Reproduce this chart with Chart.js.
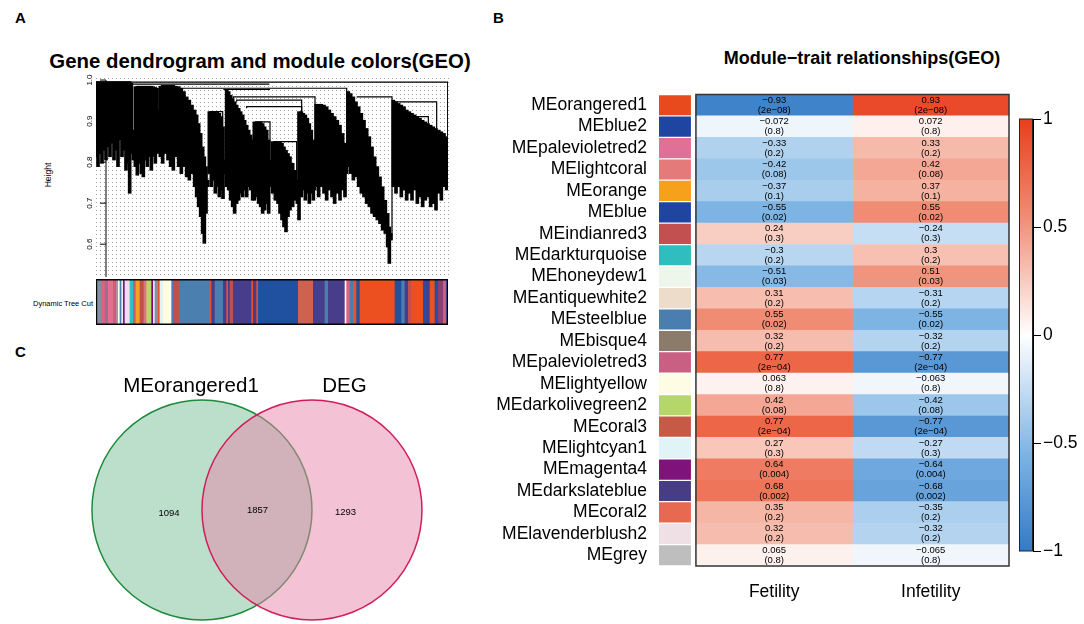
<!DOCTYPE html>
<html>
<head>
<meta charset="utf-8">
<script src="https://cdn.jsdelivr.net/npm/chart.js@4.4.1/dist/chart.umd.min.js"></script>
<style>
  body { margin: 0; width: 1084px; height: 624px; overflow: hidden; position: relative; background: #fff;
         font-family: "Liberation Sans", Arial, sans-serif; }
  canvas { position: absolute; }
  .lbl { position: absolute; white-space: nowrap; color: #000; }
</style>
</head>
<body>
<div class="lbl" style="left:15px;top:10px;font-size:15px;font-weight:bold;line-height:15px">A</div>
<div class="lbl" style="left:493px;top:10px;font-size:15px;font-weight:bold;line-height:15px">B</div>
<div class="lbl" style="left:15px;top:344px;font-size:15px;font-weight:bold;line-height:15px">C</div>
<div class="lbl" style="left:-40px;width:600px;text-align:center;top:51px;font-size:20.4px;font-weight:bold;line-height:20px">Gene dendrogram and module colors(GEO)</div>
<div class="lbl" style="left:562px;width:600px;text-align:center;top:49px;font-size:18px;font-weight:bold;line-height:18px">Module−trait relationships(GEO)</div>
<div class="lbl" style="left:18px;width:60px;top:170px;text-align:center;font-size:8.5px;line-height:10px;transform:rotate(-90deg)">Height</div>
<div class="lbl" style="left:0px;width:93px;top:299px;text-align:right;font-size:7.5px;line-height:9px">Dynamic Tree Cut</div>

<canvas id="dendro" width="460" height="210" style="left:0;top:70px"></canvas>
<canvas id="strip" width="352" height="46" style="left:96px;top:279px"></canvas>
<canvas id="venn" width="520" height="294" style="left:0;top:330px"></canvas>
<canvas id="heat" width="585" height="530" style="left:430px;top:80px"></canvas>
<canvas id="cbar" width="69" height="460" style="left:1015px;top:105px"></canvas>

<script>
// ---- panel A: dendrogram (leaf order index, height) ----
const dendroX = [0,6,12,18,24,30,36,42,48,54,60,66,72,78,84,90,96,101,106,112,118,124,130,136,142,148,154,160,166,172,178,183,188,
  193,200,208,216,224,232,240,248,256,264,272,280,288,296,302,308,314,320,325,330,335,340,346,352,358,364,370,376,381,386,
  392,398,404,410,416,422,428,434,440,446,452,458,464,470,475,482,488,494,500,506,512,518,524,530,538,546,552,558,564,570,
  576,582,590,598,604,609,616,622,628,634,640,646,652,656,660,668,676,684,692,700,708,716,724,732,740,747,752,757,764,772,
  780,788,796,804,812,820,828,836,844,852,860,868,875,880,885,892,900,908,916,924,932,940,948,956,964,972,980,988,996,1004,
  1012,1020,1028,1036,1044,1052];
const dendroTop = [.996,.996,.996,.996,.996,.996,.996,.996,.996,.996,.996,.996,.996,.996,.996,.996,.996,.996,.992,.878,.984,.985,.985,.985,.985,.985,.985,.985,.985,.984,.982,.980,.927,
  .985,.987,.987,.987,.987,.987,.985,.984,.980,.972,.959,.951,.939,.927,.915,.894,.870,.837,.813,.789,.756,.923,.923,.923,.923,.923,.919,.911,.886,.805,
  .977,.972,.963,.955,.947,.939,.931,.923,.915,.902,.890,.878,.866,.854,.898,.898,.898,.898,.894,.886,.878,.854,.805,.850,.850,.850,.850,.846,.837,.829,
  .821,.813,.797,.780,.756,.923,.923,.919,.915,.907,.894,.878,.854,.821,.941,.941,.941,.939,.935,.927,.919,.911,.902,.890,.870,.846,.813,.972,.967,.959,
  .947,.935,.919,.902,.882,.862,.837,.813,.789,.764,.740,.707,.675,.642,.626,.951,.947,.943,.939,.935,.927,.923,.919,.915,.911,.907,.902,.898,.894,.890,
  .886,.882,.878,.874,.870,.862];
const dendroBottom = [.813,.789,.821,.797,.829,.805,.837,.813,.846,.805,.829,.789,.854,.813,.829,.780,.797,.724,.821,.805,.789,.768,.797,.772,.764,.805,.789,.813,.780,.813,.797,.829,.821,
  .813,.797,.821,.805,.789,.780,.813,.789,.772,.789,.764,.756,.772,.740,.715,.691,.667,.626,.602,.675,.740,.772,.740,.756,.724,.740,.715,.732,.711,.772,
  .740,.732,.707,.691,.675,.699,.707,.724,.715,.732,.715,.740,.732,.707,.707,.715,.699,.691,.675,.683,.699,.675,.740,.724,.707,.699,.675,.659,.642,.630,
  .667,.683,.691,.707,.699,.659,.715,.732,.707,.724,.699,.724,.707,.732,.740,.715,.740,.724,.707,.732,.715,.699,.724,.707,.732,.715,.772,.789,.772,.756,
  .764,.740,.724,.715,.699,.691,.675,.667,.659,.650,.634,.626,.593,.553,.610,.740,.724,.740,.715,.732,.707,.724,.707,.732,.699,.715,.691,.707,.715,.691,
  .699,.683,.724,.707,.740,.732];
// merge brackets: left leaf, right leaf, join height, left/right leg ends
const mergeLeft  = [0, 102, 252, 382, 412, 422, 452, 477, 532, 340, 782, 892, 927, 957];
const mergeRight = [1055, 520, 752, 522, 657, 617, 617, 522, 602, 380, 888, 1022, 997, 997];
const mergeH     = [.995, .990, .980, .977, .959, .951, .935, .898, .850, .923, .959, .947, .911, .882];
const mergeLegL  = [.980, .990, .980, .977, .955, .947, .931, .898, .850, .923, .959, .947, .911, .882];
const mergeLegR  = [.862, .990, .813, .977, .941, .923, .923, .805, .756, .886, .626, .882, .894, .882];
const heightTicks = [0.6, 0.7, 0.8, 0.9, 1.0];

// module colour strip (leaf index breaks)
const stripBreaks = [0,7,17,27,37,52,62,67,72,77,82,87,102,112,120,132,144,152,167,172,177,187,192,202,220,227,232,250,342,347,357,
  382,392,397,402,412,467,472,482,487,607,652,687,697,747,752,762,772,782,792,897,917,927,937,947,982,992,1002,1017,1027,1042,1052,1056];
const stripColors = ['#c08890','#8090a8','#e06080','#a07088','#e07090','#c86080','#a0a0a0','#fffce0','#4a7fb0','#f0e8f0','#6a2080',
  '#ece0ec','#30c0c0','#c06070','#f5a020','#c05050','#e07090','#b5d86a','#800080','#e0f4f4','#8090a8','#e85030','#e0f4f4','#fffce0',
  '#ffffff','#4a7fb0','#c05050','#4a7fb0','#e85030','#483d8b','#4a7fb0','#483d8b','#e85030','#483d8b','#c05050','#483d8b','#e85030',
  '#483d8b','#e85030','#2050a0','#d06050','#483d8b','#4a7fb0','#483d8b','#ffffff','#e06080','#4a7fb0','#e85030','#2050a0','#ec5020',
  '#2050a0','#4a7fb0','#483d8b','#c05050','#ec5020','#2050a0','#483d8b','#ec5020','#2050a0','#8a4070','#c86080','#2050a0'];

// ---- panel B: module-trait heatmap ----
const modules = ['MEorangered1','MEblue2','MEpalevioletred2','MElightcoral','MEorange','MEblue','MEindianred3','MEdarkturquoise',
  'MEhoneydew1','MEantiquewhite2','MEsteelblue','MEbisque4','MEpalevioletred3','MElightyellow','MEdarkolivegreen2','MEcoral3',
  'MElightcyan1','MEmagenta4','MEdarkslateblue','MEcoral2','MElavenderblush2','MEgrey'];
const moduleColors = ['#e8491d','#1e45a0','#e07098','#e57a7a','#f5a11c','#1e46a0','#c35050','#30bdc0','#eef6ec','#eedccb','#4a7eb0',
  '#8b7b6b','#c96083','#fefce4','#b5d66a','#c75a45','#e0f3f6','#7d137b','#473c85','#e76a50','#eee0e5','#bebebe'];
const traits = ['Fetility', 'Infetility'];
const fetilityR = [-0.93,-0.072,-0.33,-0.42,-0.37,-0.55,0.24,-0.3,-0.51,0.31,0.55,0.32,0.77,0.063,0.42,0.77,0.27,0.64,0.68,0.35,0.32,0.065];
const fetilityP = ['2e−08','0.8','0.2','0.08','0.1','0.02','0.3','0.2','0.03','0.2','0.02','0.2','2e−04','0.8','0.08','2e−04','0.3','0.004','0.002','0.2','0.2','0.8'];
const infetilityR = [0.93,0.072,0.33,0.42,0.37,0.55,-0.24,0.3,0.51,-0.31,-0.55,-0.32,-0.77,-0.063,-0.42,-0.77,-0.27,-0.64,-0.68,-0.35,-0.32,-0.065];
const infetilityP = ['2e−08','0.8','0.2','0.08','0.1','0.02','0.3','0.2','0.03','0.2','0.02','0.2','2e−04','0.8','0.08','2e−04','0.3','0.004','0.002','0.2','0.2','0.8'];
const legendTicks = [-1, -0.5, 0, 0.5, 1];

// ---- panel C: Venn ----
const vennSets = ['MEorangered1', 'DEG'];
const vennCounts = [1094, 1857, 1293];

const FONT = '"Liberation Sans", Arial, sans-serif';
Chart.defaults.font.family = FONT;
Chart.defaults.animation = false;
Chart.defaults.events = [];
Chart.defaults.plugins.legend.display = false;
Chart.defaults.plugins.tooltip.enabled = false;

// colour scale blue-white-red
const redStops = [[0, [255,255,255]], [0.55, [240,140,115]], [1, [233,62,28]]];
const blueStops = [[0, [255,255,255]], [0.55, [125,180,228]], [1, [52,122,197]]];
function heatColor(v) {
  const stops = v < 0 ? blueStops : redStops;
  const a = Math.min(1, Math.abs(v));
  for (let i = 1; i < stops.length; i++) {
    if (a <= stops[i][0]) {
      const t = (a - stops[i-1][0]) / (stops[i][0] - stops[i-1][0]);
      const c = stops[i-1][1].map((c0, k) => Math.round(c0 + t * (stops[i][1][k] - c0)));
      return `rgb(${c[0]},${c[1]},${c[2]})`;
    }
  }
}
const fmt = v => (v < 0 ? '−' : '') + String(Math.abs(v));

// ===== dendrogram =====
const dendroAxis = {
  id: 'dendroAxis',
  afterDraw(chart) {
    const { ctx, scales: { x, y }, chartArea } = chart;
    const ax = x.getPixelForValue(30);
    ctx.save();
    ctx.strokeStyle = '#000';
    ctx.fillStyle = '#000';
    ctx.lineWidth = 1;
    ctx.beginPath();
    ctx.moveTo(ax, y.getPixelForValue(1.0));
    ctx.lineTo(ax, chartArea.bottom);
    ctx.stroke();
    ctx.font = '8px ' + FONT;
    ctx.textAlign = 'center';
    ctx.textBaseline = 'middle';
    heightTicks.forEach(v => {
      const py = y.getPixelForValue(v);
      ctx.beginPath();
      ctx.moveTo(ax - 6, py);
      ctx.lineTo(ax, py);
      ctx.stroke();
      ctx.save();
      ctx.translate(ax - 16, py);
      ctx.rotate(-Math.PI / 2);
      ctx.fillText(v.toFixed(1), 0, 0);
      ctx.restore();
    });
    ctx.restore();
  }
};

const mergeSets = mergeLeft.map((l, i) => ({
  type: 'line',
  data: [{ x: l, y: mergeLegL[i] }, { x: l, y: mergeH[i] }, { x: mergeRight[i], y: mergeH[i] }, { x: mergeRight[i], y: mergeLegR[i] }],
  borderColor: '#000', borderWidth: 1.2, pointRadius: 0, fill: false
}));

new Chart(document.getElementById('dendro'), {
  type: 'bar',
  data: {
    datasets: [
      { data: dendroX.map((x, i) => ({ x, y: [dendroBottom[i], dendroTop[i]] })), backgroundColor: '#000',
        borderWidth: 0, barThickness: 3 },
      ...mergeSets
    ]
  },
  options: {
    responsive: false,
    layout: { padding: { left: 96, right: 12, top: 8, bottom: 3 } },
    scales: {
      x: {
        type: 'linear', min: 0, max: 1056, offset: false,
        ticks: { display: false, stepSize: 12, maxTicksLimit: 200 },
        grid: { color: '#888', lineWidth: 0.8, drawTicks: false, offset: false },
        border: { display: false, dash: [1, 3] },
        afterFit: s => { s.height = 0; }
      },
      y: { type: 'linear', min: 0.52, max: 1.005, display: false }
    }
  },
  plugins: [dendroAxis]
});

// ===== colour strip =====
const stripBorder = {
  id: 'stripBorder',
  afterDatasetsDraw(chart) {
    const { ctx, chartArea: a } = chart;
    ctx.save();
    ctx.strokeStyle = '#000';
    ctx.lineWidth = 1.5;
    ctx.strokeRect(a.left + 0.5, a.top + 0.75, a.width - 1, a.height - 1.5);
    ctx.restore();
  }
};
new Chart(document.getElementById('strip'), {
  type: 'bar',
  data: {
    labels: ['Dynamic Tree Cut'],
    datasets: [{
      data: stripColors.map((c, i) => ({ x: [stripBreaks[i], stripBreaks[i + 1]], y: 'Dynamic Tree Cut' })),
      backgroundColor: stripColors, borderWidth: 0, barPercentage: 1, categoryPercentage: 1
    }]
  },
  options: {
    indexAxis: 'y', responsive: false,
    layout: { padding: 0 },
    scales: { x: { type: 'linear', min: 0, max: 1056, display: false }, y: { display: false } }
  },
  plugins: [stripBorder]
});

// ===== heatmap =====
const heatText = {
  id: 'heatText',
  afterDatasetsDraw(chart) {
    const { ctx, scales: { x, y }, chartArea: a } = chart;
    ctx.save();
    ctx.fillStyle = '#000';
    ctx.font = '9.5px ' + FONT;
    ctx.textAlign = 'center';
    ctx.textBaseline = 'middle';
    [[fetilityR, fetilityP], [infetilityR, infetilityP]].forEach(([r, p], col) => {
      const cx = x.getPixelForValue(col + 0.5);
      r.forEach((v, i) => {
        const cy = y.getPixelForValue(i);
        ctx.fillText(fmt(v), cx, cy - 5);
        ctx.fillText('(' + p[i] + ')', cx, cy + 5);
      });
    });
    ctx.strokeStyle = '#333';
    ctx.lineWidth = 1.5;
    const x0 = x.getPixelForValue(0), x2 = x.getPixelForValue(2);
    ctx.strokeRect(x0, a.top, x2 - x0, a.bottom - a.top);
    ctx.restore();
  }
};
new Chart(document.getElementById('heat'), {
  type: 'bar',
  data: {
    labels: modules,
    datasets: [
      { data: modules.map(() => [-0.236, -0.032]), backgroundColor: moduleColors, grouped: false, barPercentage: 0.94, categoryPercentage: 1, borderWidth: 0 },
      { data: fetilityR.map(() => [0, 1]), backgroundColor: fetilityR.map(heatColor), grouped: false, barPercentage: 1, categoryPercentage: 1, borderWidth: 0 },
      { data: infetilityR.map(() => [1, 2]), backgroundColor: infetilityR.map(heatColor), grouped: false, barPercentage: 1, categoryPercentage: 1, borderWidth: 0 }
    ]
  },
  options: {
    indexAxis: 'y', responsive: false,
    layout: { padding: { top: 10, right: 6, left: 0, bottom: 0 } },
    scales: {
      x: {
        type: 'linear', min: -0.236, max: 2,
        afterBuildTicks: s => { s.ticks = [{ value: 0.5 }, { value: 1.5 }]; },
        ticks: { callback: v => traits[Math.floor(v)], color: '#000', font: { size: 17.5 }, padding: 8, autoSkip: false, maxRotation: 0 },
        grid: { display: false }, border: { display: false },
        afterFit: s => { s.height = 44; }
      },
      y: {
        ticks: { color: '#000', font: { size: 17.5 }, padding: 4, autoSkip: false },
        grid: { display: false }, border: { display: false },
        afterFit: s => { s.width = 229; }
      }
    }
  },
  plugins: [heatText]
});

// ===== colour legend =====
const cbarBorder = {
  id: 'cbarBorder',
  afterDatasetsDraw(chart) {
    const { ctx, chartArea: a } = chart;
    ctx.save();
    ctx.strokeStyle = '#222';
    ctx.lineWidth = 1;
    ctx.strokeRect(a.left + 0.5, a.top, a.width - 1, a.height);
    ctx.restore();
  }
};
new Chart(document.getElementById('cbar'), {
  type: 'bar',
  data: {
    labels: ['r'],
    datasets: [{
      data: [[-1, 1]], barPercentage: 1, categoryPercentage: 1, borderWidth: 0,
      backgroundColor: ctx => {
        const a = ctx.chart.chartArea;
        if (!a) return '#fff';
        const y = ctx.chart.scales.y;
        const g = ctx.chart.ctx.createLinearGradient(0, y.getPixelForValue(-1), 0, y.getPixelForValue(1));
        [-1, -0.55, 0, 0.55, 1].forEach(v => g.addColorStop((v + 1) / 2, heatColor(v)));
        return g;
      }
    }]
  },
  options: {
    responsive: false,
    layout: { padding: { left: 4, top: 14, bottom: 14, right: 0 } },
    scales: {
      x: { display: false },
      y: {
        position: 'right', min: -1, max: 1,
        afterBuildTicks: s => { s.ticks = legendTicks.map(v => ({ value: v })); },
        ticks: { callback: v => fmt(v), color: '#000', font: { size: 17.5 }, padding: 2 },
        grid: { drawOnChartArea: false, drawTicks: true, tickLength: 8, color: '#000' },
        border: { color: '#000' },
        afterFit: s => { s.width = 51; }
      }
    }
  },
  plugins: [cbarBorder]
});

// ===== Venn =====
const vennText = {
  id: 'vennText',
  afterDatasetsDraw(chart) {
    const { ctx, scales: { x, y } } = chart;
    ctx.save();
    ctx.fillStyle = '#000';
    ctx.textAlign = 'center';
    ctx.textBaseline = 'middle';
    ctx.font = '20.5px ' + FONT;
    ctx.fillText(vennSets[0], x.getPixelForValue(-0.10), y.getPixelForValue(1.12));
    ctx.fillText(vennSets[1], x.getPixelForValue(1.295), y.getPixelForValue(1.12));
    ctx.font = '9.5px ' + FONT;
    ctx.fillText(String(vennCounts[0]), x.getPixelForValue(-0.30), y.getPixelForValue(-0.03));
    ctx.fillText(String(vennCounts[1]), x.getPixelForValue(0.505), y.getPixelForValue(-0.005));
    ctx.fillText(String(vennCounts[2]), x.getPixelForValue(1.305), y.getPixelForValue(-0.02));
    ctx.restore();
  }
};
const unitRadius = ctx => {
  const s = ctx.chart.scales.x;
  return Math.abs(s.getPixelForValue(1) - s.getPixelForValue(0));
};
new Chart(document.getElementById('venn'), {
  type: 'scatter',
  data: {
    datasets: [
      { data: [{ x: 0, y: 0 }], order: 2, pointRadius: unitRadius, pointBackgroundColor: 'rgba(121,191,151,0.5)',
        pointBorderColor: '#1e8a3c', pointBorderWidth: 1.5, clip: false },
      { data: [{ x: 1, y: 0 }], order: 1, pointRadius: unitRadius, pointBackgroundColor: 'rgba(231,133,171,0.5)',
        pointBorderColor: '#d01e5a', pointBorderWidth: 1.5, clip: false }
    ]
  },
  options: {
    responsive: false,
    layout: { padding: 0 },
    scales: {
      x: { type: 'linear', min: -1.836, max: 2.891, display: false },
      y: { type: 'linear', min: -1.036, max: 1.636, display: false }
    }
  },
  plugins: [vennText]
});
</script>
</body>
</html>
